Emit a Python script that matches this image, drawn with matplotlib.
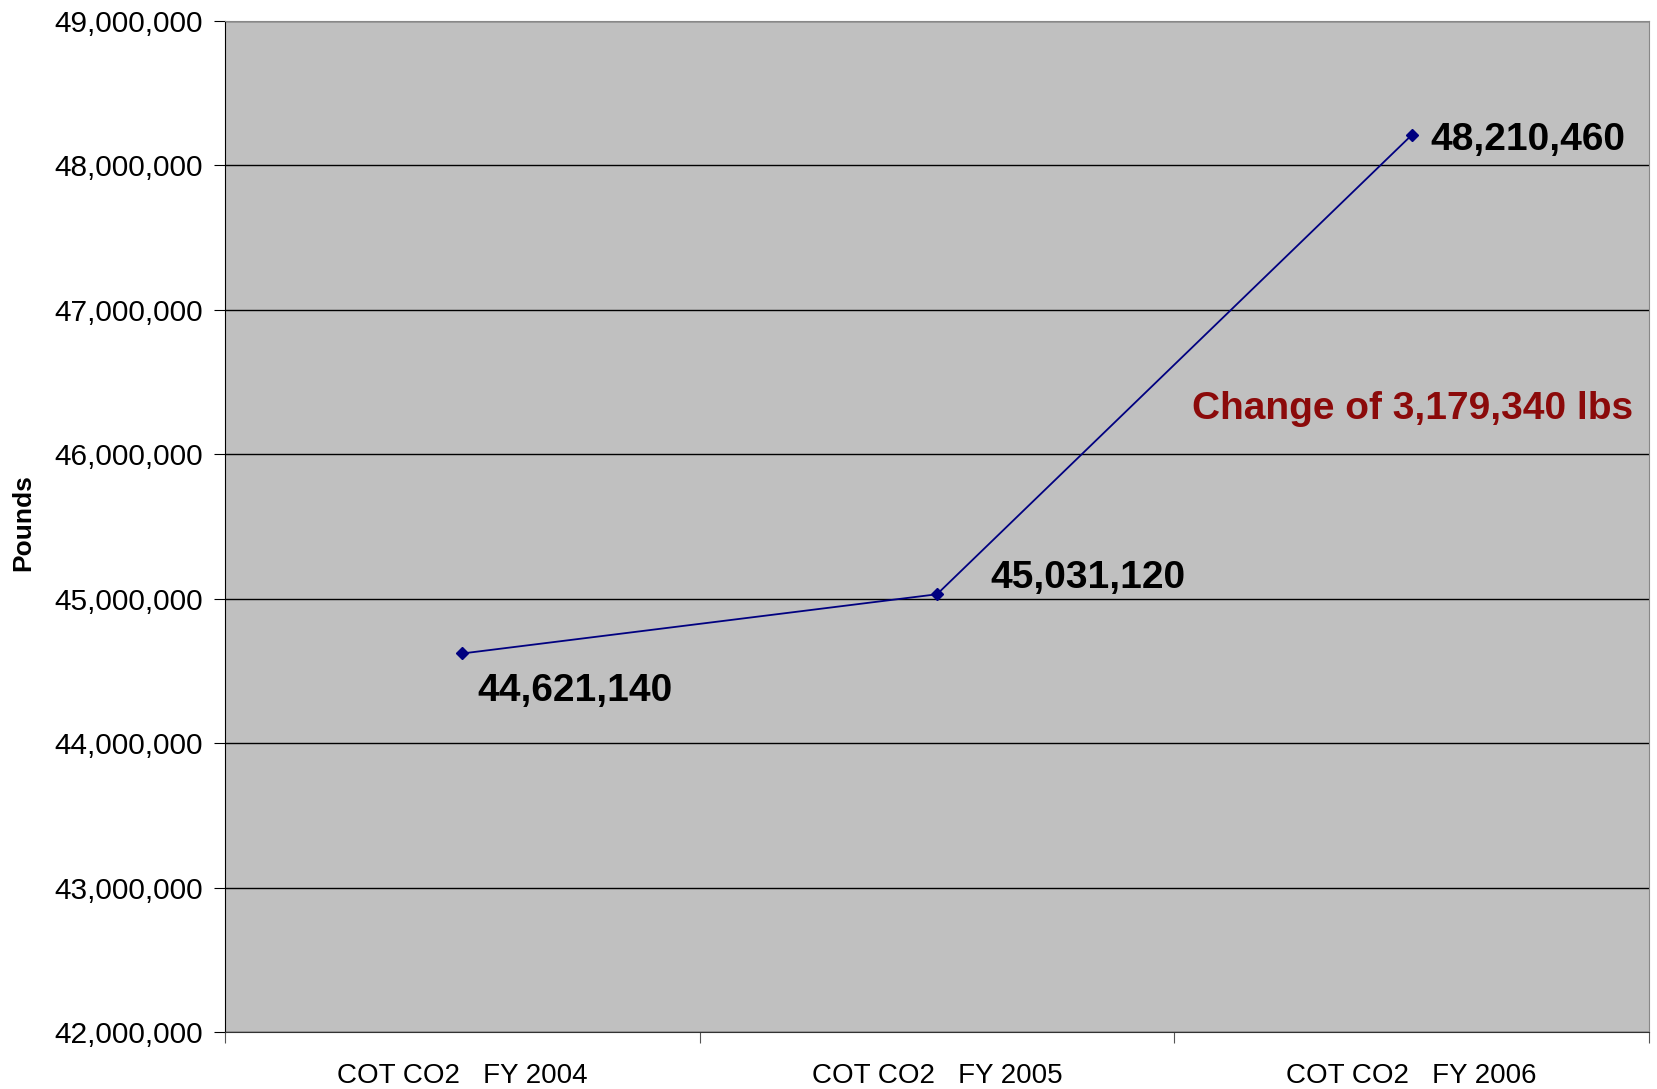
import numpy as np
import matplotlib.pyplot as plt
import matplotlib.ticker as ticker

categories = ["COT CO2   FY 2004", "COT CO2   FY 2005", "COT CO2   FY 2006"]
pounds = [44621140, 45031120, 48210460]
# offsets (px) of the value labels from their points
label_offsets = [(15, -38), (53, 16), (19, -5)]
change_text = "Change of 3,179,340 lbs"

plt.rcParams["font.family"] = ["Liberation Sans", "DejaVu Sans"]

fig = plt.figure(figsize=(16.58, 10.89), dpi=100)
ax = fig.add_axes([0.1357, 0.0523, 0.9946 - 0.1357, 0.9807 - 0.0523])
ax.set_facecolor("#c0c0c0")

x = np.arange(len(pounds))
ax.plot(x, pounds, color="#000080", lw=1.3, marker="D", ms=6, zorder=3)

px2pt = 0.72
for xi, yi, lab, (dx, dy) in zip(x, pounds, pounds, label_offsets):
    ax.annotate(f"{lab:,}", (xi, yi), xytext=(dx * px2pt, dy * px2pt),
                textcoords="offset points", ha="left", va="center",
                fontsize=28, fontweight="bold", color="black")

ax.text(1413, 1089 - 409, change_text, transform=None, ha="center", va="center",
        fontsize=28, fontweight="bold", color="#8b0a0a")

ax.set_xlim(-0.5, 2.5)
ax.set_ylim(42e6, 49e6)
ax.yaxis.set_major_locator(ticker.MultipleLocator(1e6))
ax.yaxis.set_major_formatter(ticker.FuncFormatter(lambda v, p: f"{v:,.0f}"))
ax.grid(axis="y", color="black", lw=1)
ax.set_axisbelow(True)

ax.set_xticks([-0.5, 0.5, 1.5, 2.5])
ax.set_xticklabels([])
ax.set_xticks(x, minor=True)
ax.set_xticklabels(categories, minor=True, fontsize=20)
ax.tick_params(axis="x", which="minor", length=0, pad=22)
ax.tick_params(axis="x", which="major", length=8, color="#555555")
ax.tick_params(axis="y", length=8, labelsize=21.5, pad=8)

ax.spines["top"].set_color("#888888")
ax.spines["right"].set_color("#888888")
ax.spines["left"].set_color("black")
ax.spines["bottom"].set_color("#333333")

fig.text(23 / 1658, 1 - 523 / 1089, "Pounds", rotation=90, ha="center", va="center",
         fontsize=19, fontweight="bold")

fig.savefig("out.png", dpi=100)
